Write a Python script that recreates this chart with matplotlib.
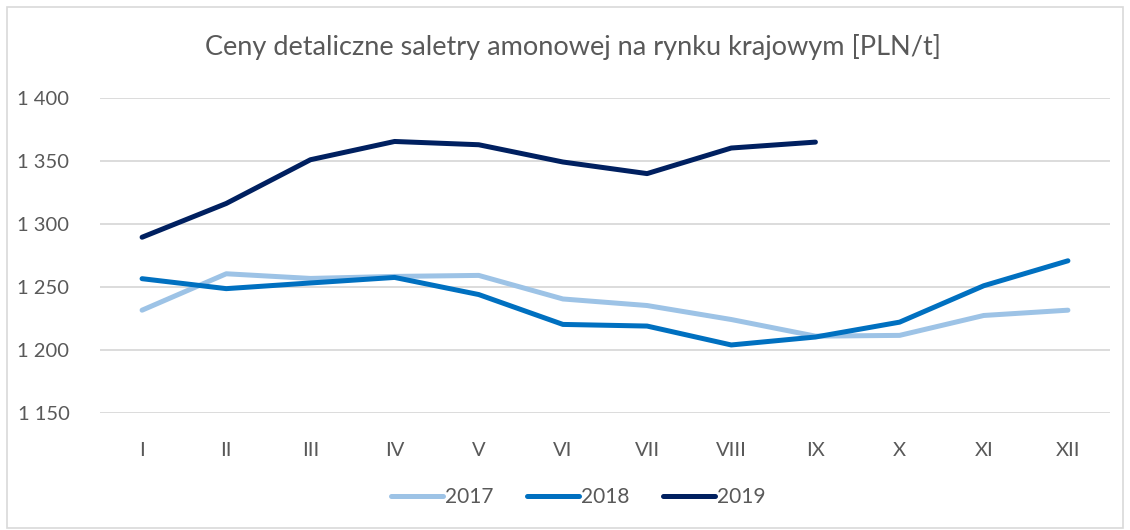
import matplotlib
matplotlib.use('Agg')
import matplotlib.pyplot as plt
from matplotlib.ticker import FuncFormatter
from matplotlib.patches import Rectangle

plt.rcParams['font.family'] = ['Lato', 'DejaVu Sans']

# Data
months = ['I', 'II', 'III', 'IV', 'V', 'VI', 'VII', 'VIII', 'IX', 'X', 'XI', 'XII']
prices_2017 = [1231.6, 1260.5, 1256.8, 1258.4, 1259.2, 1240.5, 1235.3, 1224.2, 1211.0, 1211.6, 1227.4, 1231.6]
prices_2018 = [1256.6, 1248.7, 1253.2, 1257.6, 1244.0, 1220.3, 1219.0, 1204.0, 1210.3, 1222.1, 1251.0, 1270.8]
prices_2019 = [1289.5, 1316.3, 1351.0, 1365.5, 1362.9, 1349.2, 1340.0, 1360.3, 1365.0]

text_color = '#595959'
grid_color = '#D9D9D9'

fig = plt.figure(figsize=(11.3, 5.3), dpi=100)
ax = fig.add_axes([100 / 1130, 1 - 413 / 530, 1010 / 1130, 315 / 530])

x = list(range(len(months)))
ax.plot(x, prices_2017, color='#9DC3E6', lw=3.6, solid_capstyle='round', label='2017')
ax.plot(x, prices_2018, color='#0070C0', lw=3.6, solid_capstyle='round', label='2018')
ax.plot(x[:len(prices_2019)], prices_2019, color='#002060', lw=3.6, solid_capstyle='round', label='2019')

ax.set_xlim(-0.5, len(months) - 0.5)
ax.set_ylim(1150, 1400)
ax.set_yticks(range(1150, 1401, 50))
ax.yaxis.set_major_formatter(FuncFormatter(lambda v, p: f'{int(v):,}'.replace(',', ' ')))
ax.set_xticks(x)
ax.set_xticklabels(months)

ax.grid(axis='y', color=grid_color, lw=1.3)
ax.set_axisbelow(True)
for s in ax.spines.values():
    s.set_visible(False)
ax.tick_params(axis='both', length=0, colors=text_color, labelsize=14.5)
ax.tick_params(axis='y', pad=22)
ax.tick_params(axis='x', pad=21)

fig.text(0.507, 1 - 47 / 530, 'Ceny detaliczne saletry amonowej na rynku krajowym [PLN/t]',
         ha='center', va='center', fontsize=19.5, color=text_color)

leg = fig.legend(loc='center', bbox_to_anchor=(0.512, 1 - 497 / 530), ncol=3, frameon=False,
                 fontsize=15, handlelength=2.5, handletextpad=0.1, columnspacing=1.6)
for t in leg.get_texts():
    t.set_color(text_color)

fig.patches.append(Rectangle((7 / 1130, 2 / 530), 1116 / 1130, 521 / 530, transform=fig.transFigure,
                             fill=False, edgecolor='#D9D9D9', lw=1.2))

fig.savefig('out.png', dpi=100)
